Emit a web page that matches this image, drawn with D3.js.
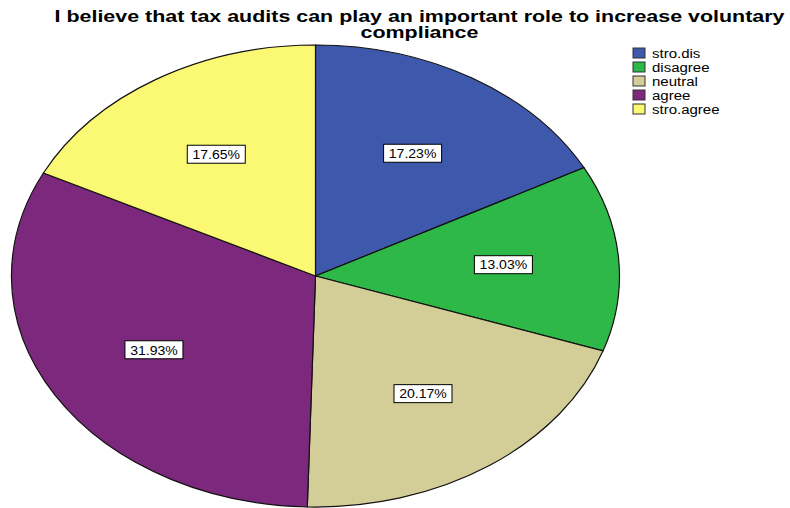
<!DOCTYPE html>
<html><head><meta charset="utf-8">
<script src="https://cdn.jsdelivr.net/npm/d3@7"></script>
<style>body{margin:0;background:#fff}svg{display:block}</style>
</head><body>
<svg id="c" width="790" height="508"></svg>
<script>
const categories = ["stro.dis", "disagree", "neutral", "agree", "stro.agree"];
const percents = [17.23, 13.03, 20.17, 31.93, 17.65];
const colors = ["#3E58AC", "#2EB848", "#D3CE97", "#7C287D", "#FBF873"];
const titleLines = ["I believe that tax audits can play an important role to increase voluntary", "compliance"];

const svg = d3.select("#c");
const font = "'Liberation Sans', Arial, sans-serif";
const cx = 315.5, cy = 276, rx = 304, ry = 231;

const data = categories.map((c, i) => ({cat: c, value: percents[i], color: colors[i]}));
const pie = d3.pie().sort(null).value(d => d.value);
const arcs = pie(data);
const arc = d3.arc().innerRadius(0).outerRadius(1);

const g = svg.append("g").attr("transform", `translate(${cx},${cy}) scale(${rx},${ry})`);
g.selectAll("path").data(arcs).join("path")
  .attr("d", arc)
  .attr("fill", d => d.data.color)
  .attr("stroke", "#111")
  .attr("stroke-width", 1.2)
  .attr("vector-effect", "non-scaling-stroke");

// labels
const labelArc = d3.arc().innerRadius(0.62).outerRadius(0.62);
const lg = svg.append("g");
arcs.forEach(d => {
  const [ux, uy] = labelArc.centroid(d);
  const x = cx + ux * rx, y = cy + uy * ry;
  const t = d.data.value.toFixed(2) + "%";
  const w = 58, h = 18;
  lg.append("rect").attr("x", x - w/2).attr("y", y - h/2).attr("width", w).attr("height", h)
    .attr("fill", "#fff").attr("stroke", "#000").attr("stroke-width", 1);
  lg.append("text").attr("transform", `translate(${x},${y + 4.8}) scale(1.08,1)`).attr("text-anchor", "middle")
    .attr("font-family", font).attr("font-size", 13).attr("fill", "#000").text(t);
});

// title
svg.append("g").attr("transform", "translate(419.5,0) scale(1.34,1)")
  .selectAll("text").data(titleLines).join("text")
  .attr("x", 0).attr("y", (d, i) => 21.7 + i * 16.3)
  .attr("text-anchor", "middle")
  .attr("font-family", font).attr("font-weight", "bold").attr("font-size", 16)
  .attr("fill", "#000").text(d => d);

// legend
const leg = svg.append("g").attr("transform", "translate(633,48)");
const items = leg.selectAll("g").data(data).join("g").attr("transform", (d, i) => `translate(0,${i * 14})`);
items.append("rect").attr("width", 12).attr("height", 10).attr("fill", d => d.color)
  .attr("stroke", "#333").attr("stroke-width", 1);
items.append("text").attr("transform", "translate(19,9.5) scale(1.25,1)").attr("font-family", font).attr("font-size", 12)
  .attr("fill", "#000").text(d => d.cat);
</script>
</body></html>
